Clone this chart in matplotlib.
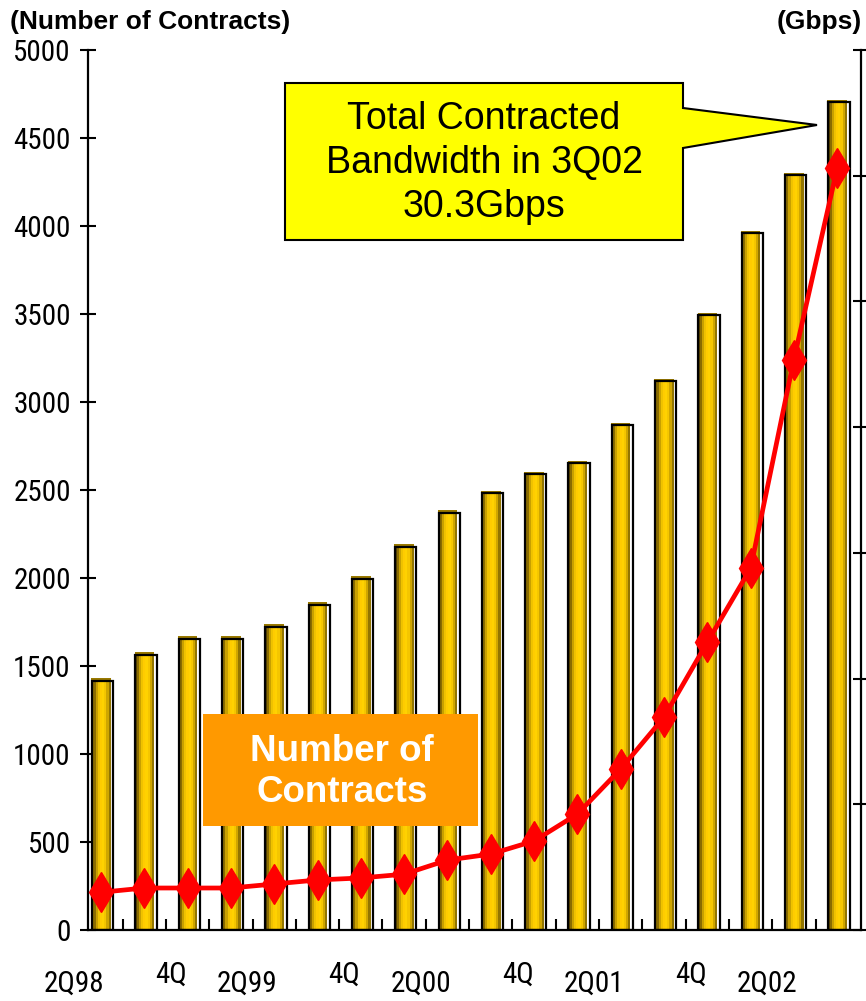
import numpy as np
import matplotlib
matplotlib.use("Agg")
import matplotlib.pyplot as plt
from matplotlib.patches import Polygon, Rectangle
from matplotlib import font_manager

# ---- data ----
quarters = ['2Q98', '3Q98', '4Q98', '1Q99', '2Q99', '3Q99', '4Q99', '1Q00', '2Q00',
            '3Q00', '4Q00', '1Q01', '2Q01', '3Q01', '4Q01', '1Q02', '2Q02', '3Q02']
tick_labels = ['2Q98', '', '4Q', '', '2Q99', '', '4Q', '', '2Q00',
               '', '4Q', '', '2Q01', '', '4Q', '', '2Q02', '']
contracts = [1430, 1578, 1669, 1669, 1737, 1862, 2009, 2191, 2384,
             2497, 2605, 2665, 2883, 3133, 3507, 3973, 4302, 4716]
bandwidth_gbps = [1.5, 1.67, 1.67, 1.67, 1.83, 1.99, 2.07, 2.22, 2.78,
                  3.02, 3.54, 4.61, 6.40, 8.46, 11.44, 14.38, 22.69, 30.3]

W, H = 866, 1001
names = {f.name for f in font_manager.fontManager.ttflist}
narrow = 'Liberation Sans'
for cand in ['Liberation Sans Narrow', 'Arial Narrow', 'Roboto Condensed',
             'Open Sans Condensed', 'DejaVu Sans Condensed']:
    if cand in names:
        narrow = cand
        break
narrow_size = 21 if narrow != 'Liberation Sans' else 18
plt.rcParams['font.family'] = ['Liberation Sans', 'DejaVu Sans']

fig = plt.figure(figsize=(W / 100, H / 100), dpi=100)
ax = fig.add_axes([88 / W, 1 - 930 / H, (861 - 88) / W, (930 - 50) / H])

x = np.arange(len(quarters))
vals = np.array(contracts, dtype=float)

# cylinder-like gold bars built from stripes
stripe_colors = ['#5a4500', '#8a6c00', '#c8a000', '#efc200', '#ffcc00',
                 '#ffd200', '#f5c600', '#cfa600', '#927500']
bw = 0.45
sw = bw / len(stripe_colors)
for k, c in enumerate(stripe_colors):
    off = -bw / 2 + sw * (k + 0.5)
    ax.bar(x + off, vals, width=sw * 1.02, color=c, linewidth=0, zorder=2)
# darker top cap
ax.bar(x, np.full_like(vals, 18), bottom=vals - 18, width=bw, color='#9a7a00',
       linewidth=0, zorder=2.1)
# offset black outline (3D edge)
ax.bar(x + 0.04, vals - 14, width=0.49, fill=False, edgecolor='black',
       linewidth=1.6, zorder=2.2)

ax.set_xlim(-0.3, 17.55)
ax.set_ylim(0, 5000)
ax.set_yticks(np.arange(0, 5001, 500))
ax.tick_params(axis='y', direction='inout', length=11, width=1.5, pad=7)
for lab in ax.get_yticklabels():
    lab.set_fontfamily(narrow)
    lab.set_fontsize(narrow_size)
ax.set_xticks([])
ax.set_xticks(x[:-1] + 0.5, minor=True)
ax.tick_params(axis='x', which='minor', direction='in', length=8, width=1.5)
for s in ['top', 'right']:
    ax.spines[s].set_visible(False)
for s in ['left', 'bottom']:
    ax.spines[s].set_linewidth(1.6)

# category labels (staggered, shifted left)
xt = ax.get_xaxis_transform()
for i, lab in enumerate(tick_labels):
    if not lab:
        continue
    if lab.startswith('4Q'):
        ax.text(i - 0.38, -0.051, lab, transform=xt, ha='center', va='center',
                fontsize=narrow_size, family=narrow, clip_on=False)
    else:
        ax.text(i - 0.62, -0.061, lab, transform=xt, ha='center', va='center',
                fontsize=narrow_size, family=narrow, clip_on=False)

# bandwidth line on right axis
ax2 = ax.twinx()
ax2.plot(x, bandwidth_gbps, color='#ff0000', lw=3.4, marker='d', ms=20,
         mfc='#ff0000', mec='#ff0000', zorder=5, clip_on=False)
ax2.set_ylim(0, 35)
ax2.set_yticks(np.arange(0, 36, 5))
ax2.set_yticklabels([])
ax2.tick_params(axis='y', direction='inout', length=11, width=1.5)
for s in ['top', 'left', 'bottom']:
    ax2.spines[s].set_visible(False)
ax2.spines['right'].set_linewidth(1.6)

def fx(px):
    return px / W

def fy(py):
    return 1 - py / H

# header labels
fig.text(fx(10), fy(22), '(Number of Contracts)', fontsize=19, fontweight='bold',
         ha='left', va='center')
fig.text(fx(862), fy(22), '(Gbps)', fontsize=19, fontweight='bold',
         ha='right', va='center')

# yellow callout
pts = [(285, 83), (683, 83), (683, 108), (817, 125), (683, 148), (683, 240), (285, 240)]
fig.patches.append(Polygon([(fx(a), fy(b)) for a, b in pts], closed=True,
                           transform=fig.transFigure, facecolor='#ffff00',
                           edgecolor='black', linewidth=1.5, zorder=10))
fig.text(fx(484), fy(163), 'Total Contracted\nBandwidth in 3Q02\n30.3Gbps',
         fontsize=27, ha='center', va='center', linespacing=1.28, zorder=11)

# orange label box
fig.patches.append(Rectangle((fx(203), fy(826)), fx(478) - fx(203), fy(714) - fy(826),
                             transform=fig.transFigure, facecolor='#ff9900',
                             edgecolor='none', zorder=10))
fig.text(fx(342), fy(772), 'Number of\nContracts', fontsize=26.5, fontweight='bold',
         color='white', ha='center', va='center', linespacing=1.25, zorder=11)

fig.savefig('out.png', dpi=100)
